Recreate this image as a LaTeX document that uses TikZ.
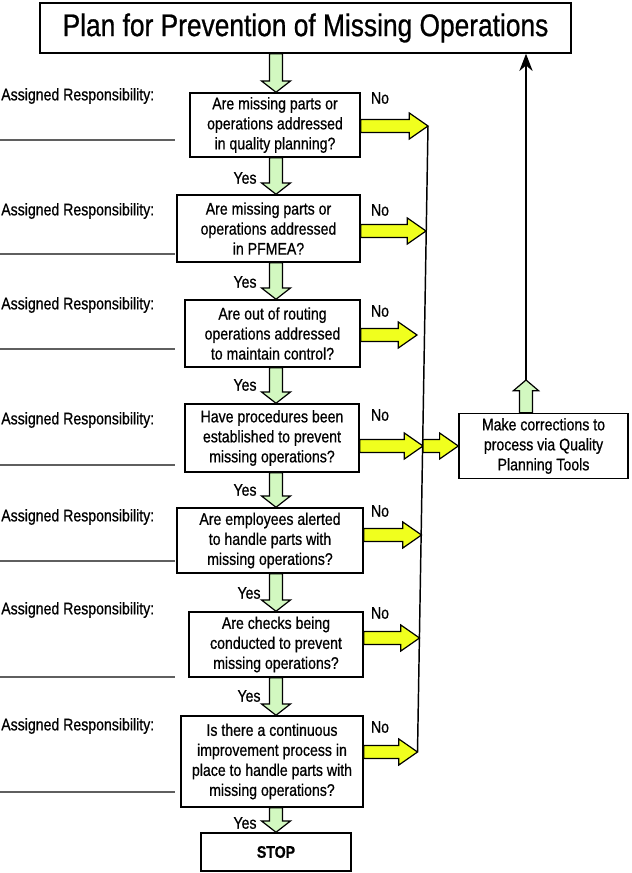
\documentclass[tikz,border=0pt]{standalone}
\usepackage{fontspec}
\setmainfont{Liberation Sans}[FakeStretch=0.84,FakeBold=0.7]
\usetikzlibrary{arrows.meta,calc}
\definecolor{ylw}{RGB}{240,255,30}
\definecolor{grn}{RGB}{210,248,192}
\definecolor{rline}{RGB}{95,95,95}
\newdimen\pxu \pxu=0.75pt
\begin{document}
\begin{tikzpicture}[x=0.75pt,y=-0.75pt,
  box/.style={draw,line width=1.1pt,align=center,inner sep=0pt,
    font=\fontsize{12.6}{15}\selectfont},
  lbl/.style={font=\fontsize{12.6}{15}\selectfont,inner sep=0pt},
  gdown/.style={draw,fill=grn,line width=0.9pt,line join=miter,
    to path={let \p1=(\tikztostart),\p2=(\tikztotarget) in
      (\x1-4.9pt,\y1) -- (\x1-4.9pt,\y2+8.5pt) -- (\x1-10.9pt,\y2+8.5pt) -- (\x1,\y2)
      -- (\x1+10.9pt,\y2+8.5pt) -- (\x1+4.9pt,\y2+8.5pt) -- (\x1+4.9pt,\y1) -- cycle}},
  gup/.style={draw,fill=grn,line width=0.9pt,line join=miter,
    to path={let \p1=(\tikztostart),\p2=(\tikztotarget) in
      (\x1-4.9pt,\y1) -- (\x1-4.9pt,\y2-8pt) -- (\x1-9.4pt,\y2-8pt) -- (\x1,\y2)
      -- (\x1+9.4pt,\y2-8pt) -- (\x1+4.9pt,\y2-8pt) -- (\x1+4.9pt,\y1) -- cycle}},
  yright/.style={draw,fill=ylw,line width=0.9pt,line join=miter,
    to path={let \p1=(\tikztostart),\p2=(\tikztotarget) in
      (\x1,\y2+4.9pt) -- (\x2-14pt,\y2+4.9pt) -- (\x2-14pt,\y2+9.75pt) -- (\x2,\y2)
      -- (\x2-14pt,\y2-9.75pt) -- (\x2-14pt,\y2-4.9pt) -- (\x1,\y2-4.9pt) -- cycle}},
  resp/.style={draw=rline,line width=1.1pt}
]
\useasboundingbox (0,0) rectangle (631,873);

% title
\node[draw,line width=1.1pt,inner sep=0pt,minimum width=531\pxu,minimum height=50\pxu,
  font=\fontsize{23.5}{28}\selectfont] (title) at (305.5,28) {Plan for Prevention of Missing Operations};

% question boxes
\node[box,minimum width=170\pxu,minimum height=64\pxu] (b1) at (275,125)
  {Are missing parts or\\operations addressed\\in quality planning?};
\node[box,minimum width=183\pxu,minimum height=67\pxu] (b2) at (268.5,228.5)
  {Are missing parts or\\operations addressed\\in PFMEA?};
\node[box,minimum width=175\pxu,minimum height=67\pxu] (b3) at (272.5,333.5)
  {Are out of routing\\operations addressed\\to maintain control?};
\node[box,minimum width=174\pxu,minimum height=68\pxu] (b4) at (272,438)
  {Have procedures been\\established to prevent\\missing operations?};
\node[box,minimum width=186\pxu,minimum height=65\pxu] (b5) at (270,540.5)
  {Are employees alerted\\to handle parts with\\missing operations?};
\node[box,minimum width=174\pxu,minimum height=65\pxu] (b6) at (276,644.5)
  {Are checks being\\conducted to prevent\\missing operations?};
\node[box,minimum width=182\pxu,minimum height=91\pxu] (b7) at (272,761.5)
  {Is there a continuous\\improvement process in\\place to handle parts with\\missing operations?};
\node[box,minimum width=150\pxu,minimum height=38\pxu,font=\fontsize{12.6}{15}\selectfont\bfseries] (stop) at (276,852) {STOP};

\node[box,minimum width=169\pxu,minimum height=65\pxu] (rb) at (543.5,446)
  {Make corrections to\\process via Quality\\Planning Tools};

% green down arrows
\coordinate (gx) at (276,0);
\draw[gdown] (title.south -| gx) to (b1.north);
\draw[gdown] (b1.south -| gx) to (b2.north);
\draw[gdown] (b2.south -| gx) to (b3.north);
\draw[gdown] (b3.south -| gx) to (b4.north);
\draw[gdown] (b4.south -| gx) to (b5.north);
\draw[gdown] (b5.south -| gx) to (b6.north);
\draw[gdown] (b6.south -| gx) to (b7.north);
\draw[gdown] (b7.south -| gx) to (stop.north);

% Yes labels
\node[lbl] (y1) at (245,178) {Yes};
\node[lbl] (y2) at (245,282) {Yes};
\node[lbl] (y3) at (245,385) {Yes};
\node[lbl] (y4) at (245,490) {Yes};
\node[lbl] (y5) at (249,593) {Yes};
\node[lbl] (y6) at (249,696) {Yes};
\node[lbl] (y7) at (245,823) {Yes};

% No labels
\node[lbl] (n1) at (380,98) {No};
\node[lbl] (n2) at (380,210) {No};
\node[lbl] (n3) at (380,311) {No};
\node[lbl] (n4) at (380,415) {No};
\node[lbl] (n5) at (380,511) {No};
\node[lbl] (n6) at (380,613) {No};
\node[lbl] (n7) at (380,727) {No};

% arrow tips on the collecting line
\coordinate (t1) at (428,126);
\coordinate (t2) at (426,231);
\coordinate (t3) at (417,335);
\coordinate (t4) at (423,446);
\coordinate (t5) at (421.5,535);
\coordinate (t6) at (419.5,638);
\coordinate (t7) at (417.5,752);

\draw[line width=1.1pt] (t1) -- (t7);

\draw[yright] (b1.east) to (t1);
\draw[yright] (b2.east) to (t2);
\draw[yright] (b3.east) to (t3);
\draw[yright] (b4.east) to (t4);
\draw[yright] (b5.east) to (t5);
\draw[yright] (b6.east) to (t6);
\draw[yright] (b7.east) to (t7);
\draw[yright] (t4) to (rb.west);

% return path to title
\coordinate (rt) at (526,380);
\draw[gup] (rb.north -| rt) to (rt);
\draw[line width=1.1pt,-{Stealth[length=13pt,width=10pt]}] (rt) -- (title.south -| rt);

% assigned responsibility
\foreach \i/\ya/\yl in {1/96/140,2/211/254,3/305/349,4/420/465,5/517/561,6/610/677,7/726/792}{
  \node[lbl,anchor=west] (ar\i) at (1,\ya) {Assigned Responsibility:};
  \draw[resp] (0,\yl) -- (175,\yl);
}
\end{tikzpicture}
\end{document}
